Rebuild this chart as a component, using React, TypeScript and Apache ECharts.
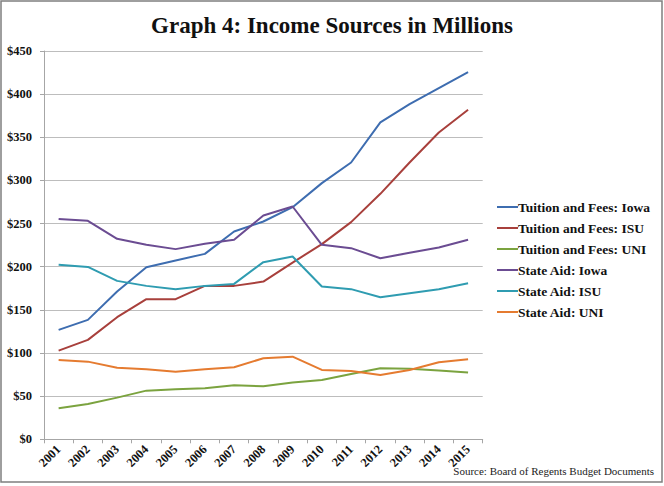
import React, { useEffect, useRef } from "react";
import * as echarts from "echarts";

const years = ["2001","2002","2003","2004","2005","2006","2007","2008","2009","2010","2011","2012","2013","2014","2015"];
const tuitionIowa = [126.8,138.4,171.2,199.5,207.2,214.9,240.8,252.4,269,296.9,320.8,367.2,388.5,407.1,425.6];
const tuitionISU = [102.8,115.2,141.5,162.4,162.4,177.8,177.8,182.8,204.8,226.2,251.7,284.5,320.8,355.6,381.9];
const tuitionUNI = [35.9,40.9,48.3,56.4,58.0,59.1,62.6,61.5,65.7,68.8,75.7,82.3,81.9,79.6,77.3];
const aidIowa = [255.2,253.2,232.3,225.4,220.4,226.5,231.2,259.4,269.8,225.4,221.5,209.9,216.1,222.3,231.2];
const aidISU = [202.2,199.8,183.6,177.8,174.0,177.8,180.1,205.3,211.8,177,174,164.7,169.3,174,180.9];
const aidUNI = [92,90,83,81.2,78.4,81.2,83.5,93.9,95.8,80.4,79.2,74.6,80.4,89.3,92.8];
const yTicks = { min: 0, max: 450, interval: 50 };

const seriesDefs = [
  { name: "Tuition and Fees: Iowa", data: tuitionIowa, color: "#3e6db0" },
  { name: "Tuition and Fees: ISU", data: tuitionISU, color: "#a8403c" },
  { name: "Tuition and Fees: UNI", data: tuitionUNI, color: "#7ba33f" },
  { name: "State Aid: Iowa", data: aidIowa, color: "#6b4c92" },
  { name: "State Aid: ISU", data: aidISU, color: "#2f9cb1" },
  { name: "State Aid: UNI", data: aidUNI, color: "#e57b30" },
];

const serif = "Liberation Serif";

export default function App() {
  const ref = useRef<HTMLDivElement>(null);
  useEffect(() => {
    if (!ref.current) return;
    const chart = echarts.init(ref.current, undefined, { renderer: "svg" });
    chart.setOption({
      animation: false,
      backgroundColor: "#ffffff",
      title: {
        text: "Graph 4: Income Sources in Millions",
        left: "center",
        top: 9,
        textStyle: { fontFamily: serif, fontWeight: "bold", fontSize: 23, color: "#111" },
      },
      legend: {
        orient: "vertical",
        left: 492,
        top: 195,
        icon: "rect",
        itemWidth: 21,
        itemHeight: 2,
        itemGap: 7,
        textStyle: { fontFamily: serif, fontWeight: "bold", fontSize: 13.5, lineHeight: 14, color: "#111", padding: [0, 0, 0, -5] },
        data: seriesDefs.map((s) => s.name),
      },
      grid: { left: 44, right: 181.3, top: 51, bottom: 46.7, containLabel: false },
      xAxis: {
        type: "category",
        data: years,
        boundaryGap: true,
        axisLine: { lineStyle: { color: "#a6a6a6", width: 1 } },
        axisTick: { show: true, length: 4, lineStyle: { color: "#a6a6a6" } },
        axisLabel: {
          rotate: 45,
          margin: 8,
          interval: 0,
          fontFamily: serif,
          fontWeight: "bold",
          fontSize: 12.5,
          color: "#111",
        },
        splitLine: { show: false },
      },
      yAxis: {
        type: "value",
        min: yTicks.min,
        max: yTicks.max,
        interval: yTicks.interval,
        axisLine: { show: true, lineStyle: { color: "#a6a6a6", width: 1 } },
        axisTick: { show: true, length: 4, lineStyle: { color: "#a6a6a6" } },
        axisLabel: {
          formatter: "${value}",
          margin: 12,
          fontFamily: serif,
          fontWeight: "bold",
          fontSize: 12.5,
          color: "#111",
        },
        splitLine: { show: true, lineStyle: { color: "#bdbdbd", width: 1 } },
      },
      series: seriesDefs.map((s) => ({
        name: s.name,
        type: "line",
        data: s.data,
        symbol: "none",
        color: s.color,
        lineStyle: { color: s.color, width: 2 },
      })),
      graphic: [
        {
          type: "rect",
          shape: { x: 1, y: 1, width: 661, height: 481 },
          style: { fill: "none", stroke: "#7f7f7f", lineWidth: 1.5 },
          silent: true,
        },
        {
          type: "text",
          x: 654,
          y: 471,
          style: {
            text: "Source: Board of Regents Budget Documents",
            fontFamily: serif,
            fontSize: 11,
            fill: "#222",
            textAlign: "right",
            textVerticalAlign: "middle",
          },
        },
      ],
    });
    return () => chart.dispose();
  }, []);
  return <div ref={ref} style={{ position: "absolute", left: 0, top: 0, width: 664, height: 486 }} />;
}
